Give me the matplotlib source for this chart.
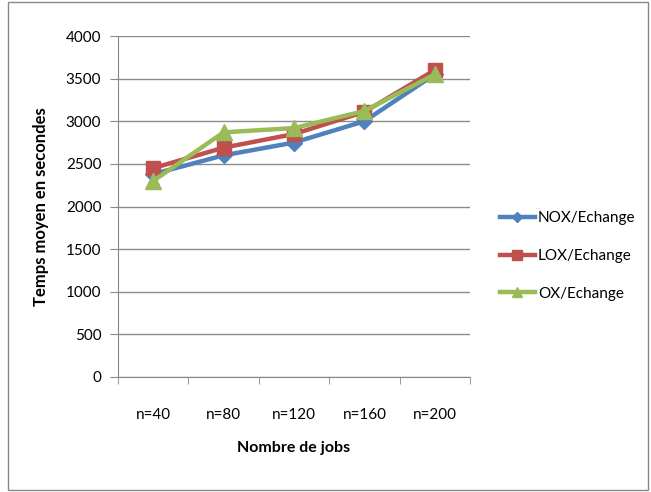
import numpy as np
import matplotlib
matplotlib.use('Agg')
import matplotlib.pyplot as plt
from matplotlib.patches import Rectangle
from matplotlib.lines import Line2D

plt.rcParams['font.family'] = ['Lato', 'DejaVu Sans']

## Data
jobs = ['n=40', 'n=80', 'n=120', 'n=160', 'n=200']
nox = [2380, 2600, 2750, 3000, 3550]
lox = [2450, 2690, 2850, 3110, 3600]
ox = [2300, 2870, 2920, 3120, 3550]

series = [('NOX/Echange', nox, '#4F81BD', 'D', 8),
          ('LOX/Echange', lox, '#C0504D', 's', 10),
          ('OX/Echange', ox, '#9BBB59', '^', 11)]

fig = plt.figure(figsize=(6.51, 4.92), dpi=100)
# outer frame of the chart
fig.patches.append(Rectangle((8 / 651, 2 / 492), 640 / 651, 488 / 492,
                             transform=fig.transFigure, fill=False,
                             edgecolor='#888888', linewidth=1))

ax = fig.add_axes([118 / 651, 1 - 377 / 492, 352 / 651, 341 / 492])
x = np.arange(len(jobs))
handles = []
for name, vals, col, mk, ms in series:
    ax.plot(x, vals, color=col, linewidth=3.2, marker=mk, markersize=ms, zorder=3)
    handles.append(Line2D([], [], color=col, linewidth=3.2, marker=mk,
                          markersize=ms * 0.7, label=name))

ax.set_xlim(-0.5, len(jobs) - 0.5)
ax.set_ylim(0, 4000)
ax.set_yticks(np.arange(0, 4001, 500))
ax.set_xticks(x)
ax.set_xticklabels(jobs, fontsize=11)
ax.set_xticks(np.arange(-0.5, len(jobs), 1), minor=True)
ax.tick_params(axis='x', which='major', length=0, pad=22)
ax.tick_params(axis='x', which='minor', length=5, color='#888888', direction='out')
ax.tick_params(axis='y', length=6, color='#888888', labelsize=11, pad=6)

ax.grid(axis='y', color='#8c8c8c', linewidth=1)
ax.set_axisbelow(True)
for side in ['top', 'right']:
    ax.spines[side].set_visible(False)
for side in ['left', 'bottom']:
    ax.spines[side].set_color('#888888')

ax.set_ylabel('Temps moyen en secondes', fontsize=12, fontweight='bold', labelpad=12)
ax.set_xlabel('Nombre de jobs', fontsize=11.5, fontweight='bold', labelpad=14)

ax.legend(handles=handles, loc='center left', bbox_to_anchor=(1.045, 0.355),
          frameon=False, fontsize=11, labelspacing=1.55, handlelength=2.3,
          handletextpad=0.2)

fig.savefig('out.png', dpi=100)
